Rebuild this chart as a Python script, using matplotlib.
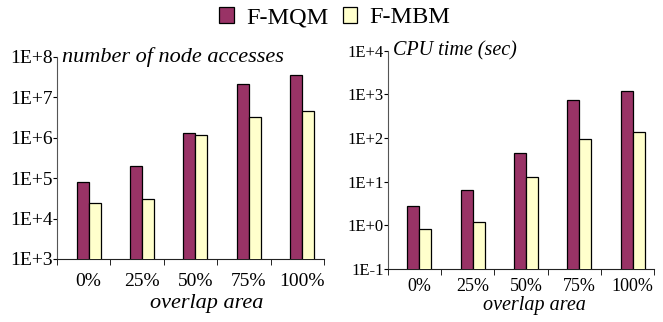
import numpy as np
import matplotlib.pyplot as plt
from matplotlib.patches import Rectangle

plt.rcParams['font.family'] = ['Liberation Serif', 'DejaVu Serif']

categories = ['0%', '25%', '50%', '75%', '100%']
series_names = ['F-MQM', 'F-MBM']

# number of node accesses
nodes_mqm = [8.0e4, 2.0e5, 1.3e6, 2.2e7, 3.6e7]
nodes_mbm = [2.4e4, 3.1e4, 1.2e6, 3.3e6, 4.6e6]

# CPU time in seconds
cpu_mqm = [2.75, 6.5, 44, 740, 1200]
cpu_mbm = [0.8, 1.2, 12.7, 95, 134]

left_ticks = [1e3, 1e4, 1e5, 1e6, 1e7, 1e8]
left_ticklabels = ['1E+3', '1E+4', '1E+5', '1E+6', '1E+7', '1E+8']
right_ticks = [1e-1, 1e0, 1e1, 1e2, 1e3, 1e4]
right_ticklabels = ['1E-1', '1E+0', '1E+1', '1E+2', '1E+3', '1E+4']

c_mqm = '#993366'
c_mbm = '#ffffcc'
width = 0.225
shift = 0.09


def draw_panel(ax, mqm, mbm, ticks, ticklabels, title, fs_y, fs_x, fs_title, xpad):
    x = np.arange(len(categories))
    ax.bar(x + shift - width, mqm, width, align='edge', color=c_mqm,
           edgecolor='black', linewidth=0.9, zorder=3)
    ax.bar(x + shift, mbm, width, align='edge', color=c_mbm,
           edgecolor='black', linewidth=0.9, zorder=3)
    ax.set_yscale('log')
    ax.set_ylim(ticks[0], ticks[-1])
    ax.set_xlim(-0.5, len(categories) - 0.5)
    ax.set_yticks(ticks)
    ax.set_yticklabels(ticklabels, fontsize=fs_y)
    ax.yaxis.set_minor_locator(plt.NullLocator())
    ax.tick_params(axis='y', length=3, pad=0, direction='out')
    # category boundaries carry the tick marks, labels sit under the bars
    ax.set_xticks(np.arange(-0.5, len(categories)), minor=True)
    ax.set_xticks(x + shift)
    ax.set_xticklabels(categories, fontsize=fs_x)
    ax.tick_params(axis='x', which='major', length=0, pad=xpad)
    ax.tick_params(axis='x', which='minor', length=4, direction='out')
    for s in ['top', 'right']:
        ax.spines[s].set_visible(False)
    ax.spines['left'].set_color('#555555')
    ax.spines['bottom'].set_color('#222222')
    ax.text(0.02, 1.0, title, transform=ax.transAxes, fontsize=fs_title,
            style='italic', va='center', ha='left')


fig = plt.figure(figsize=(6.63, 3.22), dpi=100)
ax1 = fig.add_axes([0.086, 0.196, 0.403, 0.627])
ax2 = fig.add_axes([0.585, 0.1655, 0.402, 0.677])

draw_panel(ax1, nodes_mqm, nodes_mbm, left_ticks, left_ticklabels,
           'number of node accesses', 14, 14, 16, 10)
draw_panel(ax2, cpu_mqm, cpu_mbm, right_ticks, right_ticklabels,
           'CPU time (sec)', 12, 13, 14.5, 7)

fig.text(0.312, 0.059, 'overlap area', fontsize=16, style='italic',
         ha='center', va='center')
fig.text(0.806, 0.05, 'overlap area', fontsize=14.5, style='italic',
         ha='center', va='center')

handles = [Rectangle((0, 0), 1, 1, facecolor=c, edgecolor='black', linewidth=0.9)
           for c in (c_mqm, c_mbm)]
fig.legend(handles, series_names, loc='center', bbox_to_anchor=(0.505, 0.945),
           ncol=2, frameon=False, fontsize=17.5, handlelength=0.6,
           handleheight=0.6, handletextpad=0.5, columnspacing=0.6)

fig.savefig('out.png', dpi=100)
